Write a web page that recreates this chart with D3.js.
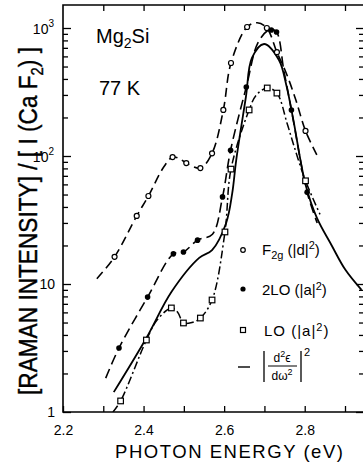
<!DOCTYPE html>
<html>
<head>
<meta charset="utf-8">
<script src="https://cdn.jsdelivr.net/npm/d3@7/dist/d3.min.js"></script>
<style>
body { margin: 0; background: #fff; }
svg { display: block; font-family: "Liberation Sans", Arial, Helvetica, sans-serif; }
</style>
</head>
<body>
<div id="chart"></div>
<script>
// F2g (|d|^2): open circles, dashed fit
var f2gMarkE = [2.328, 2.383, 2.412, 2.472, 2.506, 2.541, 2.570, 2.598, 2.617, 2.657, 2.706, 2.731, 2.802];
var f2gMarkI = [16.3, 34, 48.7, 98, 88, 80.5, 105, 229, 533, 1018, 1000, 647, 157];
var f2gLineE = [2.284, 2.328, 2.383, 2.412, 2.45, 2.472, 2.49, 2.506, 2.541, 2.570, 2.598, 2.617, 2.657, 2.682, 2.706, 2.731, 2.754, 2.778, 2.802, 2.830];
var f2gLineI = [11, 16.3, 34, 48.7, 82, 98, 95, 88, 80.5, 105, 229, 533, 1018, 1100, 1000, 647, 445, 274, 157, 102];

// 2LO (|a|^2): filled dots, dashed fit
var twoLoMarkE = [2.339, 2.41, 2.474, 2.499, 2.534, 2.596, 2.616, 2.655, 2.717, 2.730, 2.767, 2.806];
var twoLoMarkI = [3.16, 7.9, 17.2, 17.8, 22, 47.9, 111, 346, 964, 930, 229, 52];
var twoLoLineE = [2.306, 2.339, 2.41, 2.474, 2.499, 2.534, 2.571, 2.596, 2.616, 2.655, 2.685, 2.714, 2.730, 2.748, 2.767, 2.806, 2.831];
var twoLoLineI = [1.84, 3.16, 7.9, 17.2, 17.8, 22, 24.5, 47.9, 111, 346, 780, 975, 930, 470, 229, 52, 30];

// LO (|a|^2): open squares, dash-dot fit
var loMarkE = [2.343, 2.407, 2.469, 2.499, 2.541, 2.570, 2.602, 2.617, 2.662, 2.707, 2.731, 2.802];
var loMarkI = [1.22, 3.65, 6.5, 4.96, 5.42, 7.5, 25.5, 79, 229, 340, 310, 64];
var loLineE = [2.324, 2.343, 2.407, 2.433, 2.469, 2.485, 2.499, 2.52, 2.541, 2.570, 2.602, 2.617, 2.662, 2.68, 2.707, 2.731, 2.756, 2.774, 2.802, 2.838];
var loLineI = [1.0, 1.22, 3.65, 5.2, 6.5, 6.0, 4.96, 5.0, 5.42, 7.5, 25.5, 79, 229, 300, 340, 310, 181, 118, 64, 35];

// |d2eps/dw2|^2: solid theory curve
var theoryE = [2.326, 2.407, 2.469, 2.538, 2.570, 2.605, 2.620, 2.630, 2.654, 2.669, 2.699, 2.736, 2.755, 2.772, 2.802, 2.83, 2.867, 2.901, 2.941];
var theoryI = [1.43, 3.79, 8.66, 16, 18.4, 30, 51, 93, 289, 583, 750, 562, 350, 190, 60, 33, 20, 12.9, 9];

var xLabelTicks = [2.2, 2.4, 2.6, 2.8];
var xMarkTicks = [2.2, 2.3, 2.4, 2.5, 2.6, 2.7, 2.8, 2.9];
var yMajorTicks = [1, 10, 100, 1000];
var yMinorTicks = [2, 3, 4, 5, 6, 7, 8, 9, 20, 30, 40, 50, 60, 70, 80, 90, 200, 300, 400, 500, 600, 700, 800, 900];

var W = 363, H = 468;
var margin = { top: 5, right: -1, bottom: 56, left: 63 };
var width = W - margin.left - margin.right;
var height = H - margin.top - margin.bottom;

var svg = d3.select('#chart').append('svg')
	.attr('width', W)
	.attr('height', H);

var g = svg.append('g')
	.attr('transform', 'translate(' + margin.left + ',' + margin.top + ')');

var x = d3.scaleLinear().domain([2.2, 2.9]).range([0, 282]);
var y = d3.scaleLog().domain([1, 1000]).range([height, 23]);

function pairs(a, b) {
	return a.map(function(v, i) { return [v, b[i]]; });
}

g.append('clipPath').attr('id', 'plotclip')
	.append('rect').attr('width', width).attr('height', height);

// frame: left, bottom, top lines
g.append('path')
	.attr('d', 'M' + width + ',0H0V' + height + 'H' + width)
	.attr('fill', 'none')
	.attr('stroke', '#000')
	.attr('stroke-width', 1.6);

// x ticks bottom (inward) and top (inward)
g.append('g')
	.attr('transform', 'translate(0,' + height + ')')
	.call(d3.axisBottom(x).tickValues(xMarkTicks).tickSize(-6).tickFormat(''))
	.call(function(a) { a.select('.domain').remove(); });
g.append('g')
	.call(d3.axisTop(x).tickValues(xMarkTicks.slice(1)).tickSize(-6).tickFormat(''))
	.call(function(a) { a.select('.domain').remove(); });
var xl = g.append('g')
	.attr('transform', 'translate(0,' + height + ')')
	.call(d3.axisBottom(x).tickValues(xLabelTicks).tickSize(0).tickPadding(13).tickFormat(d3.format('.1f')));
xl.select('.domain').remove();
xl.selectAll('text').attr('font-size', 14).attr('font-family', null).attr('fill', '#000');

// y ticks left and right (inward)
[0, width].forEach(function(px) {
	var ax = px === 0 ? d3.axisLeft : d3.axisRight;
	g.append('g').attr('transform', 'translate(' + px + ',0)')
		.call(ax(y).tickValues(yMajorTicks).tickSize(-8).tickFormat(''))
		.call(function(a) { a.select('.domain').remove(); });
	g.append('g').attr('transform', 'translate(' + px + ',0)')
		.call(ax(y).tickValues(yMinorTicks).tickSize(-5).tickFormat(''))
		.call(function(a) { a.select('.domain').remove(); });
});
g.selectAll('.tick line').attr('stroke-width', 1.3);

// y labels with exponents
var yLab = g.append('g').attr('font-size', 14).attr('text-anchor', 'end');
yMajorTicks.forEach(function(v) {
	var e = Math.round(Math.log10(v));
	var t = yLab.append('text').attr('x', -8).attr('y', y(v)).attr('dy', '0.35em');
	if (e < 2) {
		t.text(v);
	} else {
		t.attr('x', -9).attr('dy', '0.45em').append('tspan').text('10');
		t.append('tspan').attr('dy', -7).attr('font-size', 10).text(e);
	}
});

// fit lines
var line = d3.line()
	.x(function(d) { return x(d[0]); })
	.y(function(d) { return y(d[1]); })
	.curve(d3.curveCatmullRom.alpha(0.5));

var lines = [
	{ pts: pairs(f2gLineE, f2gLineI), dash: '9,5', w: 1.6 },
	{ pts: pairs(twoLoLineE, twoLoLineI), dash: '10,5', w: 1.6 },
	{ pts: pairs(loLineE, loLineI), dash: '8,3,2,3', w: 1.5 },
	{ pts: pairs(theoryE, theoryI), dash: null, w: 1.8 }
];

var plot = g.append('g').attr('clip-path', 'url(#plotclip)');
plot.selectAll('.fit')
	.data(lines)
	.enter().append('path')
	.attr('class', 'fit')
	.attr('d', function(d) { return line(d.pts); })
	.attr('fill', 'none')
	.attr('stroke', '#000')
	.attr('stroke-width', function(d) { return d.w; })
	.attr('stroke-dasharray', function(d) { return d.dash; });

// markers
plot.selectAll('.f2g')
	.data(pairs(f2gMarkE, f2gMarkI))
	.enter().append('circle')
	.attr('cx', function(d) { return x(d[0]); })
	.attr('cy', function(d) { return y(d[1]); })
	.attr('r', 2.5)
	.attr('fill', '#fff').attr('stroke', '#000').attr('stroke-width', 1.2);

plot.selectAll('.twolo')
	.data(pairs(twoLoMarkE, twoLoMarkI))
	.enter().append('circle')
	.attr('cx', function(d) { return x(d[0]); })
	.attr('cy', function(d) { return y(d[1]); })
	.attr('r', 2.8)
	.attr('fill', '#000');

plot.selectAll('.lo')
	.data(pairs(loMarkE, loMarkI))
	.enter().append('rect')
	.attr('x', function(d) { return x(d[0]) - 2.8; })
	.attr('y', function(d) { return y(d[1]) - 2.8; })
	.attr('width', 5.6).attr('height', 5.6)
	.attr('fill', '#fff').attr('stroke', '#000').attr('stroke-width', 1.2);

// sample and temperature
var ann = svg.append('g').attr('font-size', 20).attr('fill', '#000');
var mg = ann.append('text').attr('x', 96).attr('y', 43);
mg.append('tspan').text('Mg');
mg.append('tspan').attr('dy', 5).attr('font-size', 14).text('2');
mg.append('tspan').attr('dy', -5).text('Si');
ann.append('text').attr('x', 99).attr('y', 95).text('77 K');

// legend
var leg = svg.append('g').attr('font-size', 15).attr('fill', '#000');
leg.append('circle').attr('cx', 243).attr('cy', 250).attr('r', 2.3)
	.attr('fill', '#fff').attr('stroke', '#000').attr('stroke-width', 1.2);
leg.append('circle').attr('cx', 243).attr('cy', 289).attr('r', 2.6).attr('fill', '#000');
leg.append('rect').attr('x', 240.5).attr('y', 327.5).attr('width', 5).attr('height', 5)
	.attr('fill', '#fff').attr('stroke', '#000').attr('stroke-width', 1.2);
leg.append('line').attr('x1', 238).attr('x2', 250).attr('y1', 367).attr('y2', 367)
	.attr('stroke', '#000').attr('stroke-width', 1.4);

function supText(t, base, sup, tail, fs) {
	t.append('tspan').text(base);
	t.append('tspan').attr('dy', -5).attr('font-size', fs || 11).text(sup);
	t.append('tspan').attr('dy', 5).text(tail);
}
var t1 = leg.append('text').attr('x', 262).attr('y', 255);
t1.append('tspan').text('F');
t1.append('tspan').attr('dy', 4).attr('font-size', 11).text('2g');
t1.append('tspan').attr('dy', -4).text(' (|d|');
t1.append('tspan').attr('dy', -6).attr('font-size', 11).text('2');
t1.append('tspan').attr('dy', 6).text(')');
supText(leg.append('text').attr('x', 262).attr('y', 295), '2LO (|a|', '2', ')');
supText(leg.append('text').attr('x', 264).attr('y', 336).attr('letter-spacing', 1), 'LO (|a|', '2', ')');

// |d2eps/dw2|^2
leg.append('line').attr('x1', 264).attr('x2', 264).attr('y1', 351).attr('y2', 382).attr('stroke', '#000').attr('stroke-width', 1.3);
leg.append('line').attr('x1', 301).attr('x2', 301).attr('y1', 351).attr('y2', 382).attr('stroke', '#000').attr('stroke-width', 1.3);
leg.append('line').attr('x1', 268).attr('x2', 297).attr('y1', 366).attr('y2', 366).attr('stroke', '#000').attr('stroke-width', 1);
var num = leg.append('text').attr('x', 282).attr('y', 362).attr('text-anchor', 'middle').attr('font-size', 12);
supText(num, 'd', '2', '\u03F5', 9);
var den = leg.append('text').attr('x', 282).attr('y', 380).attr('text-anchor', 'middle').attr('font-size', 12);
supText(den, 'd\u03C9', '2', '', 9);
leg.append('text').attr('x', 304).attr('y', 356).attr('font-size', 11).text('2');

// axis titles
svg.append('text')
	.attr('x', 229).attr('y', 458)
	.attr('text-anchor', 'middle')
	.attr('font-size', 18.5)
	.attr('textLength', 228)
	.attr('lengthAdjust', 'spacing')
	.text('PHOTON ENERGY (eV)');

var yt = svg.append('text')
	.attr('transform', 'translate(37,221) rotate(-90)')
	.attr('text-anchor', 'middle')
	.attr('font-size', 26)
	.attr('stroke', '#000')
	.attr('stroke-width', 0.4)
	.attr('textLength', 348)
	.attr('lengthAdjust', 'spacingAndGlyphs');
yt.append('tspan').text('[RAMAN INTENSITY] / [ I (Ca F');
yt.append('tspan').attr('dy', 6).attr('font-size', 17).text('2');
yt.append('tspan').attr('dy', -6).text(') ]');
</script>
</body>
</html>
